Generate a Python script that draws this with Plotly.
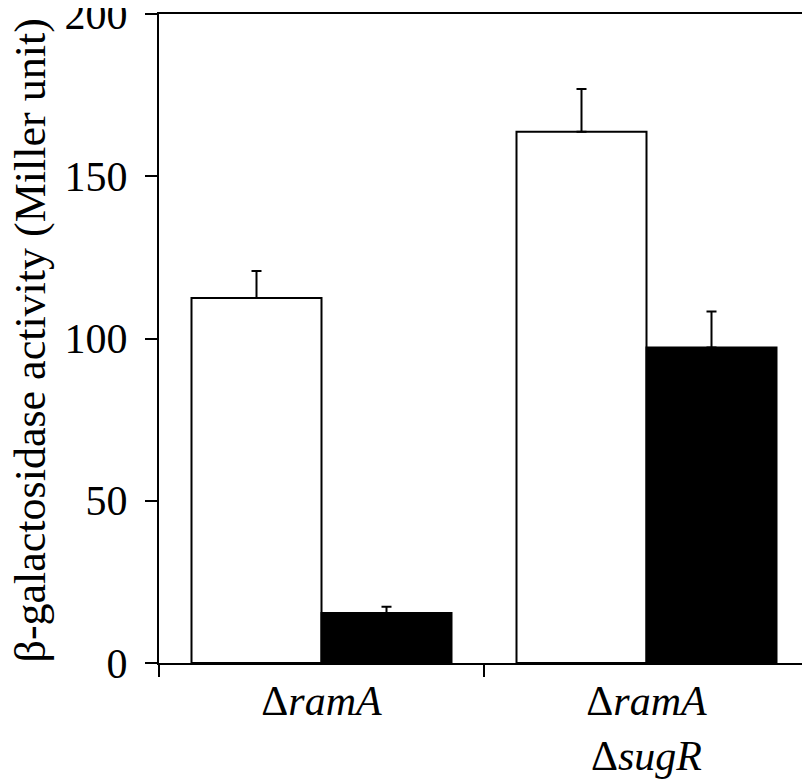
import plotly.graph_objects as go

strains = ["Δ<i>ramA</i>", "Δ<i>ramA</i><br>Δ<i>sugR</i>"]
strain_pos = [0.5, 1.5]
white_vals = [112.5, 163.7]
white_err = [8.3, 13.2]
black_vals = [15.4, 97.2]
black_err = [1.9, 11.1]
y_title = "β-galactosidase activity (Miller unit)"

FONT = "Liberation Serif, Times New Roman, serif"

fig = go.Figure()
fig.add_trace(
    go.Bar(
        x=strain_pos,
        y=white_vals,
        name="white",
        marker=dict(color="white", line=dict(color="black", width=2)),
        error_y=dict(type="data", array=white_err, arrayminus=[0, 0], symmetric=False,
                     color="black", thickness=2, width=5),
    )
)
fig.add_trace(
    go.Bar(
        x=strain_pos,
        y=black_vals,
        name="black",
        marker=dict(color="black", line=dict(color="black", width=2)),
        error_y=dict(type="data", array=black_err, arrayminus=[0, 0], symmetric=False,
                     color="black", thickness=2, width=5),
    )
)

# page body has an 8px margin, so the figure is shrunk by that much
fig.update_layout(
    barmode="group",
    bargap=0.2,
    bargroupgap=0,
    showlegend=False,
    width=802,
    height=775,
    paper_bgcolor="white",
    plot_bgcolor="white",
    margin=dict(l=151, r=1, t=6, b=120),
    font=dict(family=FONT, size=42, color="black"),
)
fig.update_xaxes(
    range=[0, 2],
    tickmode="array",
    tickvals=strain_pos,
    ticktext=strains,
    ticks="",
    automargin=False,
    showgrid=False,
    zeroline=False,
    showline=True,
    linecolor="black",
    linewidth=2,
    mirror=True,
    minor=dict(tickmode="array", tickvals=[0, 1, 2], ticks="outside", ticklen=12,
               tickwidth=2, tickcolor="black", showgrid=False),
    tickfont=dict(size=42),
)
fig.update_yaxes(
    range=[0, 200],
    tickvals=[0, 50, 100, 150, 200],
    ticks="outside",
    ticklen=12,
    tickwidth=2,
    tickcolor="black",
    ticklabelstandoff=9,
    automargin=False,
    ticklabeloverflow="allow",
    showgrid=False,
    zeroline=False,
    showline=True,
    linecolor="black",
    linewidth=2,
    mirror=True,
    tickfont=dict(size=42),
)

# axis title as a rotated annotation so it can sit close to the page edge
fig.add_annotation(
    text=y_title,
    textangle=-90,
    xref="paper",
    yref="paper",
    x=0,
    y=0.5,
    xanchor="center",
    yanchor="middle",
    xshift=-129,
    yshift=-2,
    showarrow=False,
    borderpad=0,
    font=dict(size=44),
)

fig.write_html("out.html")
